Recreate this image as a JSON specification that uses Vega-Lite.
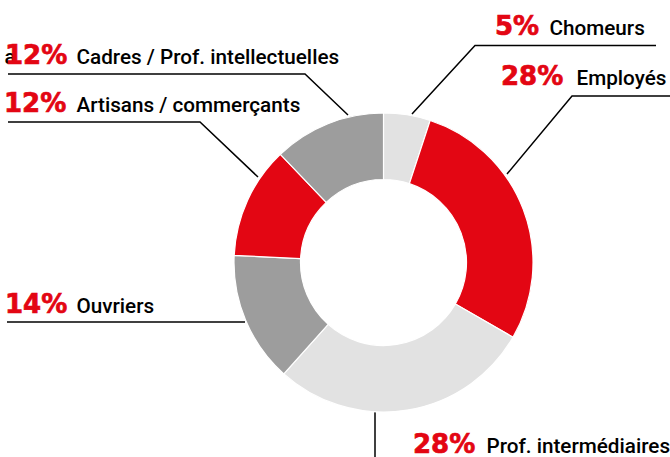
{
  "$schema": "https://vega.github.io/schema/vega-lite/v6.json",
  "width": 670,
  "height": 457,
  "padding": 0,
  "autosize": {"type": "none"},
  "background": "white",
  "view": {"stroke": null},
  "config": {"axis": {"disable": true}},
  "datasets": {
    "slices": [
      {"categorie": "Chomeurs", "part": 5, "ordre": 1},
      {"categorie": "Employés", "part": 28, "ordre": 2},
      {"categorie": "Prof. intermédiaires", "part": 28, "ordre": 3},
      {"categorie": "Ouvriers", "part": 14, "ordre": 4},
      {"categorie": "Artisans / commerçants", "part": 12, "ordre": 5},
      {"categorie": "Cadres / Prof. intellectuelles", "part": 12, "ordre": 6}
    ],
    "labels": [
      {"categorie": "Chomeurs", "pct": "5%", "px": 111.5, "lx": 166, "y": 227.5},
      {"categorie": "Employés", "pct": "28%", "px": 117.5, "lx": 193, "y": 177.5},
      {"categorie": "Prof. intermédiaires", "pct": "28%", "px": 29.5, "lx": 103, "y": -190.5},
      {"categorie": "Ouvriers", "pct": "14%", "px": -378.5, "lx": -307, "y": -50.5},
      {"categorie": "Artisans / commerçants", "pct": "12%", "px": -379.5, "lx": -307, "y": 150.5},
      {"categorie": "Cadres / Prof. intellectuelles", "pct": "12%", "px": -378.5, "lx": -307, "y": 198.5}
    ],
    "leaders": [
      {"categorie": "Chomeurs", "pt": 1, "x": 28.5, "y": 148.5},
      {"categorie": "Chomeurs", "pt": 2, "x": 91.5, "y": 217},
      {"categorie": "Chomeurs", "pt": 3, "x": 272.5, "y": 217},
      {"categorie": "Employés", "pt": 1, "x": 123.5, "y": 88.5},
      {"categorie": "Employés", "pt": 2, "x": 188.5, "y": 166.5},
      {"categorie": "Employés", "pt": 3, "x": 286.5, "y": 166.5},
      {"categorie": "Prof. intermédiaires", "pt": 1, "x": -8.5, "y": -149.5},
      {"categorie": "Prof. intermédiaires", "pt": 2, "x": -8.5, "y": -194.5},
      {"categorie": "Ouvriers", "pt": 1, "x": -138.5, "y": -59.5},
      {"categorie": "Ouvriers", "pt": 2, "x": -376.5, "y": -59.5},
      {"categorie": "Artisans / commerçants", "pt": 1, "x": -125.5, "y": 85.5},
      {"categorie": "Artisans / commerçants", "pt": 2, "x": -183.5, "y": 140.5},
      {"categorie": "Artisans / commerçants", "pt": 3, "x": -375.5, "y": 140.5},
      {"categorie": "Cadres / Prof. intellectuelles", "pt": 1, "x": -35.5, "y": 147.5},
      {"categorie": "Cadres / Prof. intellectuelles", "pt": 2, "x": -78.5, "y": 188.5},
      {"categorie": "Cadres / Prof. intellectuelles", "pt": 3, "x": -375.5, "y": 188.5}
    ],
    "stray": [{"t": "a", "x": -379, "y": 198.5}]
  },
  "resolve": {"scale": {"x": "shared", "y": "shared"}},
  "layer": [
    {
      "data": {"name": "leaders"},
      "mark": {"type": "line", "color": "black", "strokeWidth": 1.5, "interpolate": "linear"},
      "encoding": {
        "x": {"field": "x", "type": "quantitative", "scale": {"domain": [-383.5, 286.5], "nice": false, "zero": false}},
        "y": {"field": "y", "type": "quantitative", "scale": {"domain": [-194.5, 262.5], "nice": false, "zero": false}},
        "detail": {"field": "categorie"},
        "order": {"field": "pt"}
      }
    },
    {
      "data": {"name": "slices"},
      "mark": {"type": "arc", "outerRadius": 149.5, "innerRadius": 83, "stroke": "white", "strokeWidth": 1.2},
      "encoding": {
        "x": {"datum": 0, "type": "quantitative"},
        "y": {"datum": 0, "type": "quantitative"},
        "theta": {"field": "part", "type": "quantitative", "stack": true},
        "order": {"field": "ordre"},
        "color": {
          "field": "categorie",
          "type": "nominal",
          "legend": null,
          "scale": {
            "domain": ["Chomeurs", "Employés", "Prof. intermédiaires", "Ouvriers", "Artisans / commerçants", "Cadres / Prof. intellectuelles"],
            "range": ["#e2e2e2", "#e30613", "#e2e2e2", "#9d9d9d", "#e30613", "#9d9d9d"]
          }
        }
      }
    },
    {
      "data": {"name": "stray"},
      "mark": {"type": "text", "font": "Roboto", "fontSize": 20.7, "fontWeight": 500, "color": "black", "align": "left", "baseline": "alphabetic"},
      "encoding": {
        "x": {"field": "x", "type": "quantitative"},
        "y": {"field": "y", "type": "quantitative"},
        "text": {"field": "t"}
      }
    },
    {
      "data": {"name": "labels"},
      "mark": {"type": "text", "font": "DejaVu Sans", "fontSize": 26, "fontWeight": "bold", "color": "#e30613", "stroke": "#e30613", "strokeWidth": 0.7, "align": "left", "baseline": "alphabetic"},
      "encoding": {
        "x": {"field": "px", "type": "quantitative"},
        "y": {"field": "y", "type": "quantitative"},
        "text": {"field": "pct"}
      }
    },
    {
      "data": {"name": "labels"},
      "mark": {"type": "text", "font": "Roboto", "fontSize": 20.7, "fontWeight": 500, "color": "black", "align": "left", "baseline": "alphabetic"},
      "encoding": {
        "x": {"field": "lx", "type": "quantitative"},
        "y": {"field": "y", "type": "quantitative"},
        "text": {"field": "categorie"}
      }
    }
  ]
}
